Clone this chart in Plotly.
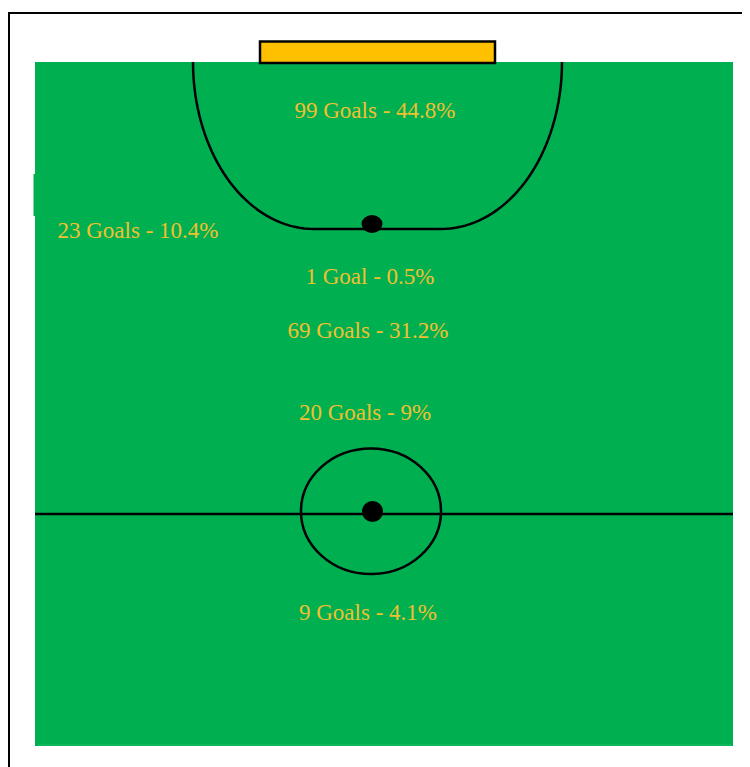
import numpy as np
import plotly.graph_objects as go

# ---- data ----
zones = ["Penalty area", "Left wing", "Penalty spot", "Own half attack zone", "Near centre", "Own half"]
goals = [99, 23, 1, 69, 20, 9]
pct = [44.8, 10.4, 0.5, 31.2, 9, 4.1]

# label positions in page-pixel space (layout)
label_x = [375, 138, 370, 368, 365, 368]
label_y = [112, 232, 278, 332, 414, 614]

W, H = 750, 767
OFF = 8  # page body margin
GREEN = "#00AF50"
GOLD = "#FFC000"
TEXT = "#F0C030"


def label(g, p):
    return f"{g} Goal{'s' if g != 1 else ''} - {p:g}%"


texts = [label(g, p) for g, p in zip(goals, pct)]

fig = go.Figure()
fig.add_trace(go.Scatter(
    x=label_x, y=label_y, text=texts, mode="text",
    textfont=dict(family="Liberation Serif", size=23, color=TEXT),
    hoverinfo="skip", showlegend=False, cliponaxis=False,
))

LW = 2.5
shapes = []
# pitch
shapes.append(dict(type="rect", x0=35, x1=733, y0=62, y1=746, fillcolor=GREEN, line=dict(width=0), layer="below"))
shapes.append(dict(type="rect", x0=33.5, x1=35, y0=174, y1=216, fillcolor=GREEN, line=dict(width=0), layer="below"))
shapes.append(dict(type="line", x0=38, x1=731, y0=745, y1=745, line=dict(color="#1FC062", width=1), layer="below"))
# outer frame lines
shapes.append(dict(type="line", x0=8, x1=760, y0=13, y1=13, line=dict(color="black", width=2)))
shapes.append(dict(type="line", x0=9, x1=9, y0=13, y1=780, line=dict(color="black", width=2)))
# goal
shapes.append(dict(type="rect", x0=260, x1=495, y0=41.5, y1=63, fillcolor=GOLD, line=dict(color="black", width=LW)))

# penalty area (two quarter-ellipses joined by a straight line)
rx, ry = 121, 167
lc, rc, top = 314, 441, 62
t = np.linspace(0, np.pi / 2, 40)
left = [(lc - rx * np.cos(a), top + ry * np.sin(a)) for a in t]
right = [(rc + rx * np.sin(a), top + ry * np.cos(a)) for a in t]
pts = left + right
path = "M " + " L ".join(f"{x:.2f},{y:.2f}" for x, y in pts)
shapes.append(dict(type="path", path=path, line=dict(color="black", width=LW)))

# penalty spot
shapes.append(dict(type="circle", x0=361.5, x1=382.5, y0=215, y1=233, fillcolor="black", line=dict(width=0)))
# halfway line
shapes.append(dict(type="line", x0=35, x1=733, y0=514, y1=514, line=dict(color="black", width=LW)))
# centre circle
shapes.append(dict(type="circle", x0=301, x1=441, y0=448.5, y1=574, line=dict(color="black", width=LW)))
# centre spot
shapes.append(dict(type="circle", x0=362, x1=383, y0=501, y1=522, fillcolor="black", line=dict(width=0)))

fig.update_layout(
    width=W, height=H,
    margin=dict(l=0, r=0, t=0, b=0),
    paper_bgcolor="white", plot_bgcolor="white",
    xaxis=dict(range=[OFF, W + OFF], visible=False, fixedrange=True),
    yaxis=dict(range=[H + OFF, OFF], visible=False, fixedrange=True),
    shapes=shapes,
)

fig.write_html("out.html")
